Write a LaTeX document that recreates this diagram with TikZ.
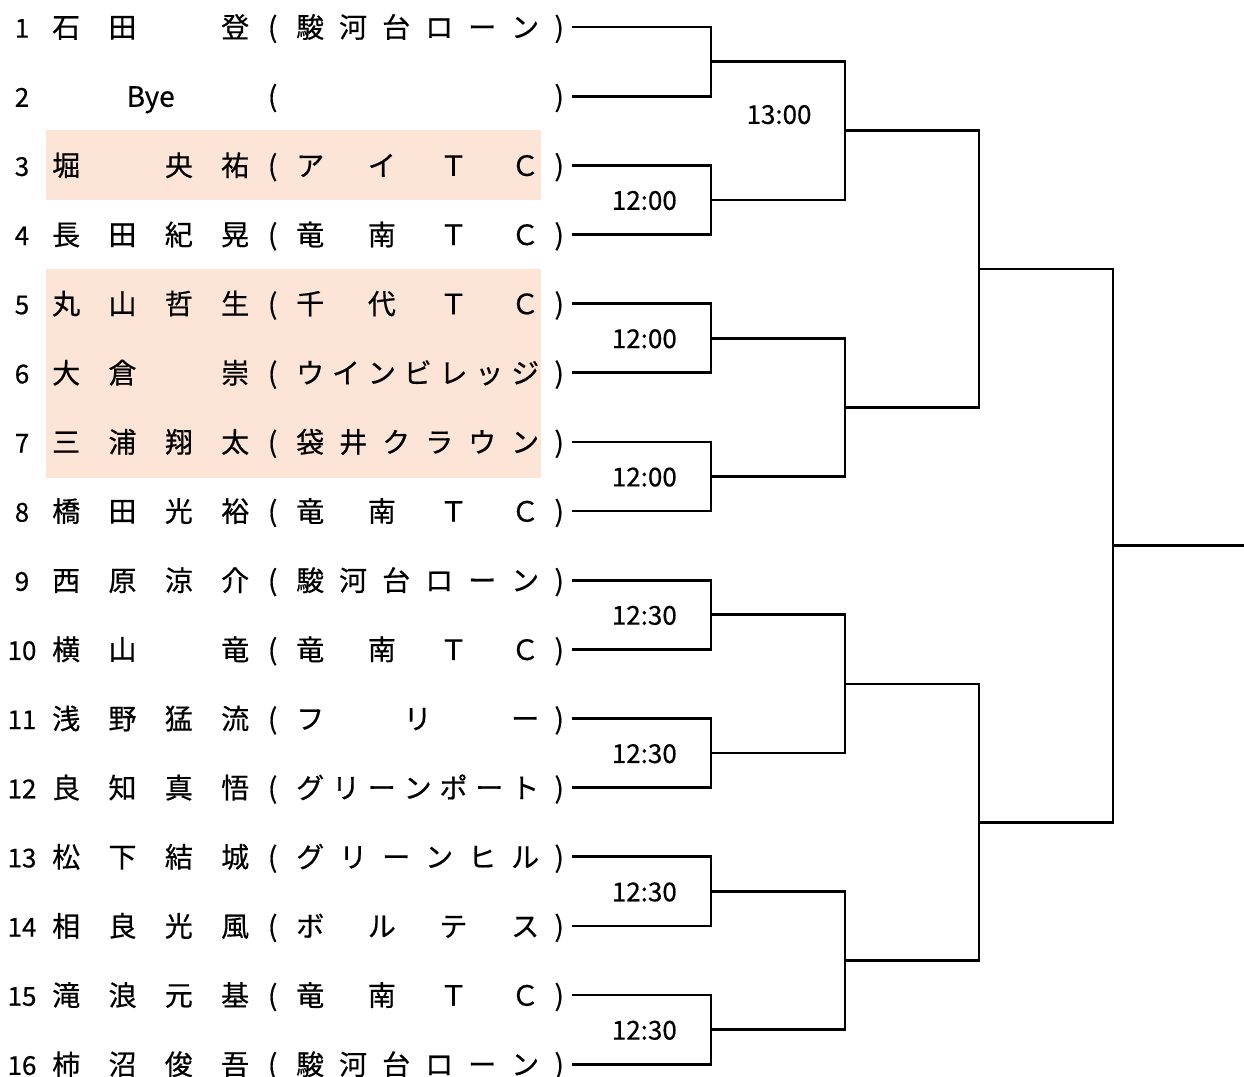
\documentclass[tikz,border=0pt]{standalone}
\usepackage{fontspec}
\setmainfont{Noto Sans CJK JP}[FakeBold=0.5]
\usepackage{xcolor}
\usepackage{tikz}
\usetikzlibrary{positioning}
\definecolor{hlpeach}{HTML}{FCE4D6}
\newcommand{\zsp}{\makebox[1em]{}}
\newcommand{\byeword}{\hfil Bye\hfil}
\makeatletter
\def\spread@end{\spread@end}
\newcommand{\spreadchars}[2]{\makebox[#1][s]{\expandafter\spread@first#2\spread@end}}
\def\spread@first#1{#1\spread@rest}
\def\spread@rest#1{\ifx#1\spread@end\else\hfill#1\expandafter\spread@rest\fi}
\makeatother

\begin{document}
\begin{tikzpicture}[x=1pt, y=-1pt,
        every node/.style={inner sep=0pt, text height=24.6pt, text depth=3.4pt, font=\fontsize{28pt}{32pt}\selectfont},
        num/.style={font=\fontsize{26pt}{30pt}\selectfont},
        bracket/.style={line width=2.7pt},
        time/.style={font=\fontsize{26pt}{30pt}\selectfont, text height=22.9pt, text depth=3.1pt}]
        \useasboundingbox (0,0) rectangle (1244,1076);
        % seeded rows
        \fill[hlpeach] (46,130) rectangle (541,200);
        \fill[hlpeach] (46,269) rectangle (541,478);
        
        \foreach \i/\nm/\cl in {1/石田\zsp 登/駿河台ローン, 2/\byeword/\hfil, 3/堀\zsp 央祐/アイＴＣ,
                4/長田紀晃/竜南ＴＣ, 5/丸山哲生/千代ＴＣ, 6/大倉\zsp 崇/ウインビレッジ,
                7/三浦翔太/袋井クラウン, 8/橋田光裕/竜南ＴＣ, 9/西原涼介/駿河台ローン,
                10/横山\zsp 竜/竜南ＴＣ, 11/浅野猛流/フリー, 12/良知真悟/グリーンポート,
                13/松下結城/グリーンヒル, 14/相良光風/ボルテス, 15/滝浪元基/竜南ＴＣ,
                16/柿沼俊吾/駿河台ローン} {
            \pgfmathsetmacro\yy{27+69.15*(\i-1)}
            \node[num] (n\i) at (22,\yy) {\i};
            \node[anchor=west] (nm\i) at (52,\yy) {\spreadchars{197pt}{\nm}};
            \node[anchor=west] (cl\i) at (249,\yy) {\makebox[47pt]{(}\spreadchars{243pt}{\cl}\makebox[33pt]{\hspace{7pt})}};
        }
        
        % match points
        \foreach \r in {1,...,4} {
            \pgfmathtruncatemacro\cnt{16/2^\r}
            \foreach \k in {1,...,\cnt} {
                \pgfmathsetmacro\ym{27+69.15*((\k-1)*2^\r+(2^\r-1)/2)}
                \coordinate (m\r-\k) at (577+134*\r,\ym);
            }
        }
        
        \foreach \k in {1,...,8} {
            \pgfmathtruncatemacro\a{2*\k-1}
            \pgfmathtruncatemacro\b{2*\k}
            \draw[bracket] (cl\a.east) -| (m1-\k) |- (cl\b.east);
        }
        \foreach \r in {1,2,3} {
            \pgfmathtruncatemacro\nr{\r+1}
            \pgfmathtruncatemacro\cnt{8/2^\r}
            \foreach \k in {1,...,\cnt} {
                \pgfmathtruncatemacro\a{2*\k-1}
                \pgfmathtruncatemacro\b{2*\k}
                \draw[bracket] (m\r-\a) -| (m\nr-\k) |- (m\r-\b);
            }
        }
        \draw[bracket] (m4-1) -- ++(131,0) coordinate (champ);
        
        % start times
        \foreach \k/\tm in {2/12:00, 3/12:00, 4/12:00, 5/12:30, 6/12:30, 7/12:30, 8/12:30} {
            \node[time, left=34pt of m1-\k] (t1-\k) {\tm};
        }
        \node[time] (t2-1) at (779,114) {13:00};
        
    \end{tikzpicture}
\end{document}
